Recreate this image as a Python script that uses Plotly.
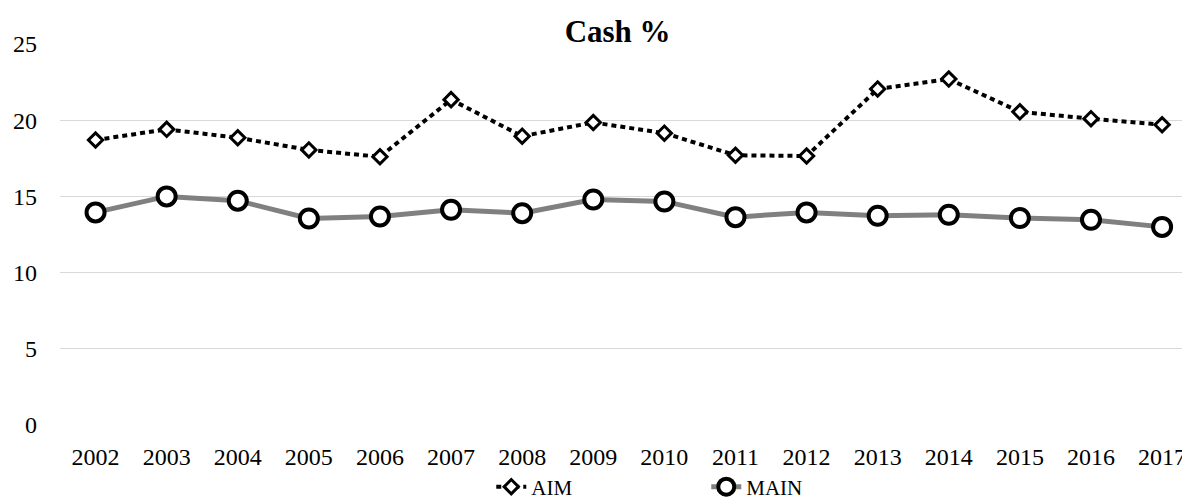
import plotly.graph_objects as go

years = ["2002", "2003", "2004", "2005", "2006", "2007", "2008", "2009",
         "2010", "2011", "2012", "2013", "2014", "2015", "2016", "2017"]
aim = [18.7, 19.4, 18.85, 18.05, 17.6, 21.35, 18.95, 19.85,
       19.15, 17.7, 17.65, 22.05, 22.7, 20.55, 20.1, 19.7]
main = [13.95, 15.0, 14.72, 13.55, 13.68, 14.12, 13.9, 14.8,
        14.67, 13.64, 13.95, 13.73, 13.8, 13.58, 13.47, 13.0]
y_ticks = [0, 5, 10, 15, 20, 25]

FONT = "Liberation Serif"

fig = go.Figure()
fig.add_trace(go.Scatter(
    x=years, y=aim, name="AIM", mode="lines+markers",
    line=dict(color="#000000", width=4, dash="5px,4px"),
    marker=dict(symbol="diamond", size=11, color="#ffffff",
                line=dict(color="#000000", width=3)),
))
fig.add_trace(go.Scatter(
    x=years, y=main, name="MAIN", mode="lines+markers",
    line=dict(color="#808080", width=5),
    marker=dict(symbol="circle", size=18, color="#ffffff",
                line=dict(color="#000000", width=4)),
))

fig.update_layout(
    width=1182, height=497,
    margin=dict(l=60, r=0, t=44, b=72, autoexpand=False),
    paper_bgcolor="#ffffff", plot_bgcolor="#ffffff",
    font=dict(family=FONT, color="#000000", size=22),
    title=dict(text="<b>Cash %</b>", x=0.497, xref="paper",
               y=1 - 31 / 497, yref="container", yanchor="middle",
               font=dict(family=FONT, size=31, color="#000000")),
    xaxis=dict(type="category", range=[-0.5, 15.28], showgrid=False,
               zeroline=False, showline=False, ticks="",
               ticklabelstandoff=15,
               tickfont=dict(family=FONT, size=24, color="#000000")),
    yaxis=dict(range=[0, 25], tickvals=y_ticks, showgrid=True,
               gridcolor="#d9d9d9", gridwidth=1, zeroline=False,
               showline=False, ticks="", ticklabelstandoff=22,
               tickfont=dict(family=FONT, size=24, color="#000000")),
    legend=dict(orientation="h", x=0.576, xanchor="center",
                y=-(487 - 425) / 381, yanchor="middle",
                font=dict(family=FONT, size=21, color="#000000"),
                entrywidth=170, bgcolor="rgba(0,0,0,0)"),
    showlegend=True,
)

fig.write_html(
    "out.html",
    config={"displayModeBar": False},
    post_script="document.body.style.margin='0';document.body.style.padding='0';"
                "document.body.style.overflow='hidden';",
)
